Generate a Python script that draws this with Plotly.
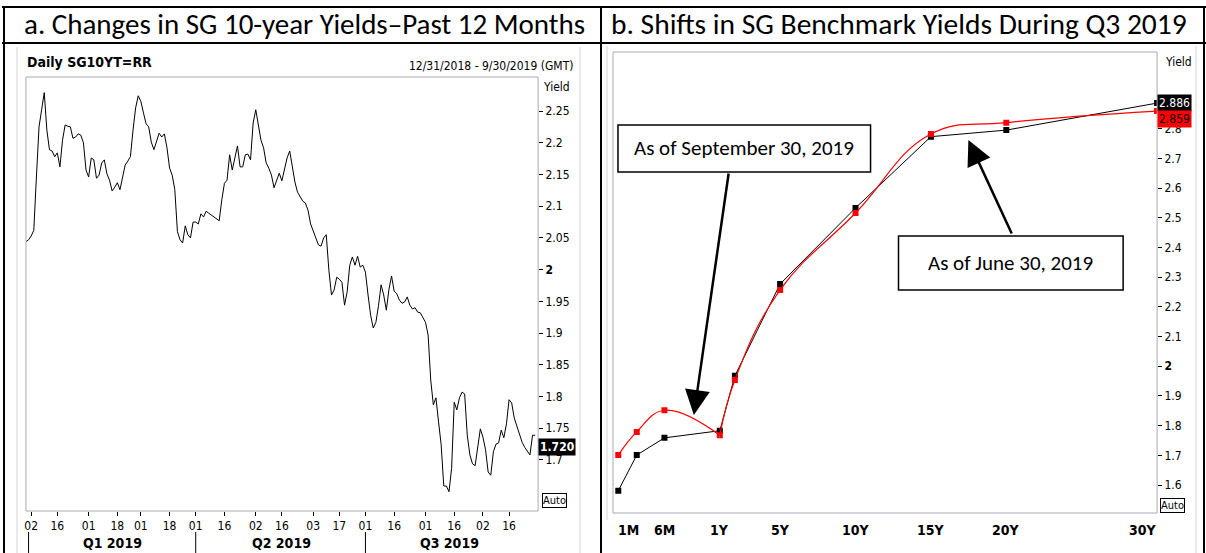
import pandas as pd
import plotly.graph_objects as go

W, H = 1206, 553

# ---------------- data: panel a (daily SG 10Y yield, business days) ----------------
start_date = "2018-12-31"
sg10y = [
    2.044, 2.047, 2.053, 2.062, 2.146, 2.225, 2.252, 2.279, 2.220, 2.189,
    2.187, 2.178, 2.184, 2.162, 2.204, 2.228, 2.226, 2.225, 2.207, 2.209,
    2.214, 2.212, 2.200, 2.157, 2.146, 2.176, 2.173, 2.144, 2.149, 2.168,
    2.173, 2.151, 2.141, 2.124, 2.130, 2.137, 2.126, 2.144, 2.165, 2.171,
    2.178, 2.220, 2.255, 2.274, 2.265, 2.247, 2.230, 2.225, 2.201, 2.189,
    2.204, 2.215, 2.209, 2.214, 2.192, 2.160, 2.149, 2.126, 2.060, 2.047,
    2.042, 2.069, 2.055, 2.050, 2.075, 2.075, 2.072, 2.088, 2.083, 2.092,
    2.089, 2.086, 2.083, 2.080, 2.077, 2.110, 2.136, 2.141, 2.181, 2.157,
    2.178, 2.195, 2.162, 2.162, 2.181, 2.182, 2.173, 2.231, 2.252, 2.231,
    2.204, 2.192, 2.168, 2.160, 2.149, 2.129, 2.141, 2.152, 2.140, 2.160,
    2.176, 2.187, 2.162, 2.138, 2.122, 2.114, 2.108, 2.105, 2.094, 2.072,
    2.061, 2.050, 2.039, 2.037, 2.050, 2.055, 1.999, 1.960, 1.968, 1.988,
    1.985, 1.980, 1.944, 1.965, 2.007, 2.020, 2.007, 2.021, 2.004, 2.007,
    1.996, 1.960, 1.928, 1.908, 1.917, 1.943, 1.976, 1.960, 1.936, 1.969,
    1.990, 1.966, 1.962, 1.952, 1.947, 1.949, 1.957, 1.944, 1.938, 1.940,
    1.933, 1.932, 1.924, 1.917, 1.897, 1.826, 1.787, 1.798, 1.760, 1.724,
    1.659, 1.659, 1.650, 1.687, 1.791, 1.779, 1.798, 1.807, 1.804, 1.739,
    1.708, 1.694, 1.691, 1.724, 1.749, 1.736, 1.716, 1.681, 1.676, 1.713,
    1.725, 1.727, 1.747, 1.735, 1.757, 1.795, 1.790, 1.766, 1.754, 1.739,
    1.728, 1.720, 1.713, 1.708, 1.739, 1.739,
]
last_close = 1.720
dates = pd.bdate_range(start_date, periods=len(sg10y))

a_tick_dates = ["2019-01-02", "2019-01-16", "2019-02-01", "2019-02-18", "2019-03-01",
                "2019-03-18", "2019-04-01", "2019-04-16", "2019-05-02", "2019-05-16",
                "2019-06-03", "2019-06-17", "2019-07-01", "2019-07-16", "2019-08-01",
                "2019-08-16", "2019-09-02", "2019-09-16"]
a_y_ticks = [1.7, 1.75, 1.8, 1.85, 1.9, 1.95, 2.0, 2.05, 2.1, 2.15, 2.2, 2.25]
a_y_ticktext = ["1.7", "1.75", "1.8", "1.85", "1.9", "1.95", "<b>2</b>", "2.05", "2.1",
                "2.15", "2.2", "2.25"]
quarter_labels = ["Q1 2019", "Q2 2019", "Q3 2019"]
quarter_mid = ["2019-02-14", "2019-05-16", "2019-08-14"]
quarter_start = ["2019-01-01", "2019-04-01", "2019-07-01"]

# ---------------- data: panel b (benchmark curve) ----------------
tenors = ["1M", "3M", "6M", "1Y", "2Y", "5Y", "10Y", "15Y", "20Y", "30Y"]
tenor_years = [1 / 12, 0.25, 0.5, 1, 2, 5, 10, 15, 20, 30]
yield_jun30 = [1.581, 1.701, 1.759, 1.783, 1.968, 2.277, 2.533, 2.773, 2.795, 2.886]
yield_sep30 = [1.701, 1.779, 1.852, 1.768, 1.954, 2.257, 2.516, 2.782, 2.820, 2.859]
b_tick_labels = ["1M", "6M", "1Y", "5Y", "10Y", "15Y", "20Y", "30Y"]
b_y_ticks = [1.6, 1.7, 1.8, 1.9, 2.0, 2.1, 2.2, 2.3, 2.4, 2.5, 2.6, 2.7, 2.8]
b_y_ticktext = ["1.6", "1.7", "1.8", "1.9", "<b>2</b>", "2.1", "2.2", "2.3", "2.4", "2.5",
                "2.6", "2.7", "2.8"]

NARROW = "Liberation Sans Narrow, Arial Narrow, DejaVu Sans Condensed, Liberation Sans, sans-serif"
HEAD = "Carlito, Calibri, Lato, Noto Sans, sans-serif"


def px(x):
    return x / W


def py(y):
    return 1 - y / H


fig = go.Figure()

# panel a line
fig.add_trace(go.Scatter(x=dates, y=sg10y, mode="lines", line=dict(color="black", width=1),
                         xaxis="x", yaxis="y", hoverinfo="skip"))

# panel b: split into short end (<=1Y) and long end (>=1Y) axes
short_idx = [i for i, t in enumerate(tenor_years) if t <= 1]
long_idx = [i for i, t in enumerate(tenor_years) if t >= 1]
for series, color, shape in [(yield_jun30, "black", "linear"), (yield_sep30, "red", "spline")]:
    for idx, xa in [(short_idx, "x2"), (long_idx, "x3")]:
        fig.add_trace(go.Scatter(
            x=[tenor_years[i] for i in idx], y=[series[i] for i in idx],
            mode="lines+markers",
            line=dict(color=color, width=1.2 if color == "red" else 1, shape=shape, smoothing=1.2),
            marker=dict(symbol="square", size=6, color=color),
            xaxis=xa, yaxis="y2", hoverinfo="skip"))

# ---------------- axes ----------------
fig.update_layout(
    width=W, height=H, margin=dict(l=0, r=0, t=0, b=0),
    paper_bgcolor="white", plot_bgcolor="white", showlegend=False,
    xaxis=dict(domain=[px(24), px(537)], type="date",
               rangebreaks=[dict(bounds=["sat", "mon"])],
               range=["2018-12-31", "2019-10-01 03:00"],
               tickvals=a_tick_dates, tickformat="%d",
               ticks="outside", ticklen=4, tickcolor="black",
               tickfont=dict(family=NARROW, size=12, color="black"),
               showgrid=False, zeroline=False, showline=False, anchor="y"),
    yaxis=dict(domain=[py(511), py(77)], range=[1.6196, 2.3036], side="right",
               tickvals=a_y_ticks, ticktext=a_y_ticktext,
               ticks="outside", ticklen=4, tickcolor="black",
               tickfont=dict(family=NARROW, size=12, color="black"),
               showgrid=False, zeroline=False, showline=False, anchor="x"),
    xaxis2=dict(domain=[px(612), px(719)], range=[0.0355, 1.0],
                showticklabels=False, ticks="", showgrid=False, zeroline=False,
                showline=False, anchor="y2"),
    xaxis3=dict(domain=[px(719), px(1157)], range=[1, 30],
                showticklabels=False, ticks="", showgrid=False, zeroline=False,
                showline=False, anchor="y2"),
    yaxis2=dict(domain=[py(513), py(52)], range=[1.506, 3.058], side="right",
                tickvals=b_y_ticks, ticktext=b_y_ticktext,
                ticks="outside", ticklen=4, tickcolor="black",
                tickfont=dict(family=NARROW, size=12, color="black"),
                showgrid=False, zeroline=False, showline=False, anchor="x3"),
)

shapes = []
GRAY = "#a9a9b8"
LIGHT = "#d4d4dc"
# plot frames
shapes.append(dict(type="rect", xref="paper", yref="paper", x0=px(24), x1=px(537),
                   y0=py(511), y1=py(77), line=dict(color=GRAY, width=1)))
shapes.append(dict(type="rect", xref="paper", yref="paper", x0=px(612), x1=px(1157),
                   y0=py(513), y1=py(52), line=dict(color=GRAY, width=1)))
# screenshot frames
shapes.append(dict(type="line", xref="paper", yref="paper", x0=px(15), x1=px(15), y0=0, y1=py(47),
                   line=dict(color=LIGHT, width=1)))
shapes.append(dict(type="line", xref="paper", yref="paper", x0=px(579), x1=px(579), y0=0, y1=py(47),
                   line=dict(color=LIGHT, width=1)))
shapes.append(dict(type="line", xref="paper", yref="paper", x0=px(606), x1=px(606), y0=py(520), y1=py(46),
                   line=dict(color=LIGHT, width=1)))
shapes.append(dict(type="line", xref="paper", yref="paper", x0=px(1196), x1=px(1196), y0=py(553), y1=py(46),
                   line=dict(color=LIGHT, width=1)))
# table lines
for (x0, y0, x1, y1) in [(0, 7, W, 7), (0, 43, W, 43), (2, 7, 2, H), (1204, 7, 1204, H),
                         (600, 7, 600, H)]:
    shapes.append(dict(type="line", xref="paper", yref="paper", x0=px(x0), x1=px(x1),
                       y0=py(y0), y1=py(y1), line=dict(color="black", width=2)))
# quarter separators
for d in quarter_start:
    shapes.append(dict(type="line", xref="x", yref="paper", x0=d, x1=d, y0=0, y1=py(532),
                       line=dict(color="black", width=1)))
# annotation boxes
shapes.append(dict(type="rect", xref="paper", yref="paper", x0=px(617), x1=px(870),
                   y0=py(172), y1=py(125), line=dict(color="black", width=1.5), fillcolor="white"))
shapes.append(dict(type="rect", xref="paper", yref="paper", x0=px(898), x1=px(1123),
                   y0=py(290), y1=py(236), line=dict(color="black", width=1.5), fillcolor="white"))
fig.update_layout(shapes=shapes)

ann = []


def text(t, x, y, size, family=NARROW, xanchor="left", color="black", **kw):
    ann.append(dict(text=t, x=px(x), y=py(y), xref="paper", yref="paper", showarrow=False,
                    xanchor=xanchor, yanchor="middle", font=dict(family=family, size=size, color=color),
                    **kw))


text("a. Changes in SG 10-year Yields\u2013Past 12 Months", 20, 24, 29, family=HEAD)
text("b. Shifts in SG Benchmark Yields During Q3 2019", 608, 24, 29.5, family=HEAD)
text("<b>Daily SG10YT=RR</b>", 23, 62, 14)
text("12/31/2018 - 9/30/2019 (GMT)", 574, 66, 12, xanchor="right")
text("Yield", 540, 87, 12)
text("Yield", 1163, 62, 12)
text("As of September 30, 2019", 743, 148, 21, family=HEAD, xanchor="center")
text("As of June 30, 2019", 1010, 263, 21, family=HEAD, xanchor="center")
text("Auto", 541, 500, 11, bordercolor="black", borderwidth=1, borderpad=0, bgcolor="white")
text("Auto", 1160, 505, 11, bordercolor="black", borderwidth=1, borderpad=0, bgcolor="white")

# quarter labels
for lab, d in zip(quarter_labels, quarter_mid):
    ann.append(dict(text=f"<b>{lab}</b>", x=d, y=py(543), xref="x", yref="paper", showarrow=False,
                    xanchor="center", yanchor="middle", font=dict(family=NARROW, size=14, color="black")))

# panel b x labels
for lab in b_tick_labels:
    t = tenor_years[tenors.index(lab)]
    xa = "x2" if t < 1 else "x3"
    shift = 10 if lab == "1M" else (-14 if lab == "30Y" else 0)
    ann.append(dict(text=f"<b>{lab}</b>", x=t, y=py(530), xref=xa, yref="paper", showarrow=False,
                    xanchor="center", yanchor="middle", xshift=shift,
                    font=dict(family=NARROW, size=14, color="black")))

# last value labels
ann.append(dict(text=f"<b>{last_close:.3f}</b>", x=px(537), y=last_close, xref="paper", yref="y",
                showarrow=False, xanchor="left", yanchor="middle", bgcolor="black", borderpad=1,
                font=dict(family=NARROW, size=12, color="white")))
ann.append(dict(text=f"{yield_jun30[-1]:.3f}", x=px(1157), y=yield_jun30[-1], xref="paper", yref="y2",
                showarrow=False, xanchor="left", yanchor="middle", bgcolor="black", borderpad=1,
                font=dict(family=NARROW, size=12, color="white")))
ann.append(dict(text=f"{yield_sep30[-1]:.3f}", x=px(1157), y=yield_sep30[-1], xref="paper", yref="y2",
                showarrow=False, xanchor="left", yanchor="middle", bgcolor="red", borderpad=1, yshift=-8,
                font=dict(family=NARROW, size=12, color="black")))

# arrows
ann.append(dict(text="", x=px(693), y=py(415), xref="paper", yref="paper", showarrow=True,
                ax=35, ay=-243, arrowhead=2, arrowsize=2, arrowwidth=2.5, arrowcolor="black"))
ann.append(dict(text="", x=px(968), y=py(140), xref="paper", yref="paper", showarrow=True,
                ax=44, ay=95, arrowhead=2, arrowsize=2, arrowwidth=2.5, arrowcolor="black"))

fig.update_layout(annotations=ann)
fig.write_html("out.html", config={"displayModeBar": False},
               post_script="document.body.style.margin='0';")
